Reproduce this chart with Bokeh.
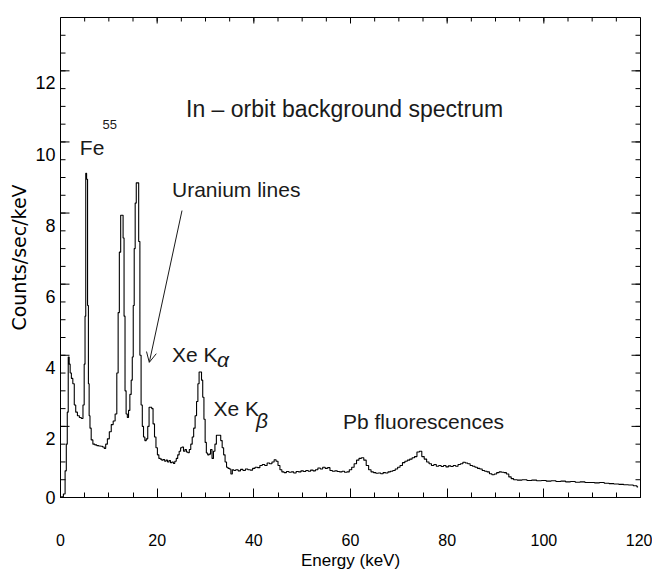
import math
from bokeh.plotting import figure
from bokeh.models import Range1d, LinearAxis, FixedTicker, Label, Arrow, OpenHead
from bokeh.embed import file_html
from bokeh.resources import INLINE

# ---------------- data ----------------
energy_kev = [
    0.0, 0.4, 0.8, 1.1, 1.3, 1.5, 1.7, 1.9, 2.1, 2.4, 2.7, 3.0, 3.3, 3.7, 4.1, 4.5, 4.8,
    5.0, 5.15, 5.3, 5.5, 5.7, 5.85, 6.0, 6.2, 6.5, 6.9, 7.3, 7.7, 8.1, 8.5, 8.9, 9.2,
    9.5, 9.9, 10.3, 10.7, 11.1, 11.5, 11.8, 12.05, 12.3, 12.6, 12.85, 13.05, 13.25,
    13.45, 13.7, 13.95, 14.2, 14.5, 14.75, 14.95, 15.15, 15.35, 15.55, 15.8, 16.05,
    16.3, 16.55, 16.8, 17.05, 17.3, 17.6, 17.9, 18.2, 18.45, 18.75, 19.0, 19.3, 19.6,
    19.9, 20.2, 20.5, 20.8, 21.1, 21.4, 21.7, 22.0, 22.3, 22.6, 22.9, 23.2, 23.5, 23.8,
    24.1, 24.4, 24.7, 25.0, 25.3, 25.6, 25.9, 26.2, 26.5, 26.8, 27.1, 27.4, 27.7, 28.0,
    28.3, 28.55, 28.8, 29.05, 29.3, 29.55, 29.8, 30.05, 30.3, 30.6, 30.9, 31.2, 31.5,
    31.8, 32.1, 32.4, 32.7, 33.0, 33.3, 33.6, 33.9, 34.2, 34.5, 34.8, 35.1, 35.4, 35.7,
    36.0, 36.5, 37.0, 37.5, 38.0, 38.5, 39.0, 39.5, 40.0, 40.5, 41.0, 41.5, 42.0, 42.5,
    43.0, 43.5, 44.0, 44.4, 44.8, 45.2, 45.6, 46.0, 46.5, 47.0, 47.5, 48.0, 48.5, 49.0,
    49.5, 50.0, 50.5, 51.0, 51.5, 52.0, 52.5, 53.0, 53.5, 54.0, 54.5, 55.0, 55.5, 56.0,
    56.5, 57.0, 57.5, 58.0, 58.5, 59.0, 59.5, 60.0, 60.5, 61.0, 61.5, 62.0, 62.5, 63.0,
    63.5, 64.0, 64.5, 65.0, 65.5, 66.0, 66.5, 67.0, 67.5, 68.0, 68.5, 69.0, 69.5, 70.0,
    70.5, 71.0, 71.5, 72.0, 72.5, 73.0, 73.5, 74.0, 74.5, 75.0, 75.5, 76.0, 76.5, 77.0,
    77.5, 78.0, 78.5, 79.0, 79.5, 80.0, 80.5, 81.0, 81.5, 82.0, 82.5, 83.0, 83.5, 84.0,
    84.5, 85.0, 85.5, 86.0, 86.5, 87.0, 87.5, 88.0, 88.5, 89.0, 89.5, 90.0, 90.5, 91.0,
    91.5, 92.0, 92.5, 93.0, 93.5, 94.0, 95.0, 96.0, 97.0, 98.0, 99.0, 100.0, 101.0,
    102.0, 103.0, 104.0, 105.0, 106.0, 107.0, 108.0, 109.0, 110.0, 111.0, 112.0, 113.0,
    114.0, 115.0, 116.0, 117.0, 118.0, 119.0, 119.5,
]
counts_per_kev = [
    0.0, 0.02, 0.1, 0.75, 1.5, 2.4, 3.95, 3.75, 3.5, 3.35, 3.2, 2.6, 2.4, 2.3, 2.25, 2.22, 2.6,
    3.75, 5.1, 9.12, 8.95, 5.4, 3.2, 2.3, 1.95, 1.62, 1.5, 1.48, 1.46, 1.45, 1.44, 1.42, 1.38,
    1.5, 1.65, 1.85, 2.05, 2.15, 2.35, 3.5, 5.2, 6.9, 7.94, 7.94, 7.3, 5.1,
    3.0, 2.35, 2.25, 2.45, 2.9, 3.3, 3.95, 5.4, 7.0, 8.28, 8.85, 8.85,
    7.2, 4.0, 2.6, 2.0, 1.7, 1.6, 1.65, 2.0, 2.54, 2.54, 2.5, 2.07, 1.7,
    1.4, 1.2, 1.1, 1.08, 1.05, 1.07, 1.02, 1.05, 1.0, 1.04, 0.98, 1.0, 0.96, 1.02,
    1.1, 1.2, 1.3, 1.4, 1.42, 1.3, 1.35, 1.28, 1.26, 1.35, 1.5, 1.7, 1.95, 2.3,
    2.7, 3.2, 3.53, 3.53, 3.3, 2.82, 2.2, 1.55, 1.25, 1.2, 1.22, 1.35, 1.1,
    1.3, 1.5, 1.75, 1.75, 1.75, 1.6, 1.4, 1.2, 1.0, 0.85, 0.82, 0.8, 0.66, 0.78,
    0.76, 0.78, 0.75, 0.79, 0.76, 0.8, 0.78, 0.77, 0.82, 0.85, 0.84, 0.9, 0.93, 0.9,
    0.97, 0.95, 1.0, 1.06, 1.02, 0.9, 0.78, 0.72, 0.7, 0.73, 0.71, 0.72, 0.69, 0.73,
    0.72, 0.75, 0.73, 0.76, 0.74, 0.77, 0.75, 0.78, 0.83, 0.8, 0.85, 0.82, 0.84, 0.76,
    0.74, 0.75, 0.73, 0.72, 0.74, 0.71, 0.72, 0.78, 0.85, 0.95, 1.05, 1.1, 1.12, 1.05,
    0.9, 0.78, 0.72, 0.7, 0.68, 0.69, 0.67, 0.7, 0.69, 0.72, 0.74, 0.76, 0.8, 0.85,
    0.9, 0.98, 1.02, 1.05, 1.08, 1.12, 1.15, 1.28, 1.3, 1.15, 1.08, 1.0, 0.95, 0.9,
    0.93, 0.88, 0.9, 0.87, 0.9, 0.86, 0.89, 0.87, 0.9, 0.88, 0.93, 0.95, 0.99, 0.97,
    0.95, 0.9, 0.88, 0.85, 0.82, 0.8, 0.76, 0.74, 0.72, 0.67, 0.64, 0.66, 0.7, 0.72,
    0.71, 0.7, 0.66, 0.58, 0.53, 0.5, 0.49, 0.5, 0.48, 0.49, 0.47, 0.48, 0.46,
    0.47, 0.45, 0.46, 0.44, 0.45, 0.43, 0.44, 0.42, 0.42, 0.41, 0.42, 0.4,
    0.39, 0.38, 0.37, 0.36, 0.35, 0.33, 0.3,
]

x_major_ticks = [0, 20, 40, 60, 80, 100, 120]
x_minor_ticks = [5 * i for i in range(25)]
y_major_ticks = [0, 2, 4, 6, 8, 10, 12]
y_minor_ticks = [0.5 * i for i in range(28)]

title_text = "In – orbit background spectrum"
x_title = "Energy (keV)"
y_title = "Counts/sec/keV"

# ---------------- figure ----------------
W, H = 652, 586
BL, BR, BT, BB = 60, 12, 17, 89
X0, X1, Y0, Y1 = 0, 120, 0, 13.5

p = figure(
    width=W, height=H,
    x_range=Range1d(X0, X1), y_range=Range1d(Y0, Y1),
    x_axis_location=None, y_axis_location=None,
    output_backend="svg", toolbar_location=None,
    min_border_left=BL, min_border_right=BR, min_border_top=BT, min_border_bottom=BB,
    background_fill_color="white", border_fill_color="white",
    outline_line_color="black", outline_line_width=1,
)
p.xgrid.visible = False
p.ygrid.visible = False

px_per_x = (W - BL - BR) / (X1 - X0)
px_per_y = (H - BT - BB) / (Y1 - Y0)

label_shift = 0.34  # the left tick labels sit slightly below their ticks
p.extra_y_ranges = {"lab": Range1d(Y0 + label_shift, Y1 + label_shift)}

# bottom axis: ticks + labels + title
bottom = LinearAxis(ticker=FixedTicker(ticks=x_major_ticks, minor_ticks=x_minor_ticks))
bottom.major_tick_in = 9
bottom.major_tick_out = 0
bottom.minor_tick_in = 5
bottom.minor_tick_out = 0
bottom.axis_line_color = "black"
bottom.major_label_text_font = "Liberation Sans"
bottom.major_label_text_font_size = "16px"
bottom.major_label_text_color = "black"
bottom.major_label_standoff = 36
bottom.axis_label = x_title
bottom.axis_label_text_font = "Liberation Sans"
bottom.axis_label_text_font_size = "17px"
bottom.axis_label_text_font_style = "normal"
bottom.axis_label_text_color = "black"
bottom.axis_label_standoff = 2
p.add_layout(bottom, "below")

# left axis: labels only (ticks are drawn as segments below)
lab_ticks = [label_shift] + y_major_ticks[1:]
lab = LinearAxis(y_range_name="lab", ticker=FixedTicker(ticks=lab_ticks, minor_ticks=[]))
lab.axis_line_color = None
lab.major_tick_line_color = None
lab.minor_tick_line_color = None
lab.major_tick_in = 0
lab.major_tick_out = 0
lab.major_label_overrides = {label_shift: "0"}
lab.major_label_standoff = 5
lab.major_label_text_font = "Liberation Sans"
lab.major_label_text_font_size = "18px"
lab.major_label_text_color = "black"
lab.axis_label = y_title
lab.axis_label_text_font = "DejaVu Sans"
lab.axis_label_text_font_size = "19px"
lab.axis_label_text_font_style = "normal"
lab.axis_label_text_color = "black"
lab.axis_label_standoff = 2
p.add_layout(lab, "left")

# inward ticks on left, right and top sides
def ticks_y(values, x_edge, length_px, direction):
    n = len(values)
    dx = direction * length_px / px_per_x
    p.segment(x0=[x_edge] * n, y0=values, x1=[x_edge + dx] * n, y1=values,
              line_color="black", line_width=1)


def ticks_x(values, y_edge, length_px, direction):
    n = len(values)
    dy = direction * length_px / px_per_y
    p.segment(x0=values, y0=[y_edge] * n, x1=values, y1=[y_edge + dy] * n,
              line_color="black", line_width=1)


ticks_y(y_major_ticks, X0, 9, +1)
ticks_y(y_minor_ticks, X0, 5, +1)
ticks_y(y_major_ticks, X1, 9, -1)
ticks_y(y_minor_ticks, X1, 5, -1)
ticks_x(x_major_ticks, Y1, 6, -1)
ticks_x(x_minor_ticks, Y1, 4, -1)

# ---------------- spectrum ----------------
p.step(energy_kev, counts_per_kev, mode="center", line_color="black", line_width=1.1)

# ---------------- annotations ----------------
ann_font = "Liberation Sans"
ann_color = "#1a1a1a"


def ann(x, y, text, size="21px", style="normal"):
    p.add_layout(Label(x=x, y=y, text=text, text_align="left", text_baseline="alphabetic",
                       text_font=ann_font, text_font_size=size, text_font_style=style,
                       text_color=ann_color))


ann(25.97, 10.92, title_text, "23px")
ann(4.0, 9.85, "Fe")
ann(8.7, 10.5, "55", "13px")
ann(23.07, 8.67, "Uranium lines")
ann(23.07, 4.03, "Xe K")
ann(32.4, 3.89, "α", "21px", "italic")
ann(31.66, 2.51, "Xe K")
ann(40.45, 2.17, "β", "21px", "italic")
ann(58.45, 2.14, "Pb fluorescences")

p.add_layout(Arrow(end=OpenHead(size=10, line_width=1, line_color=ann_color),
                   x_start=25.14, y_start=8.07, x_end=18.37, y_end=3.80,
                   line_width=1, line_color=ann_color))

open("out.html", "w").write(file_html(p, INLINE))
